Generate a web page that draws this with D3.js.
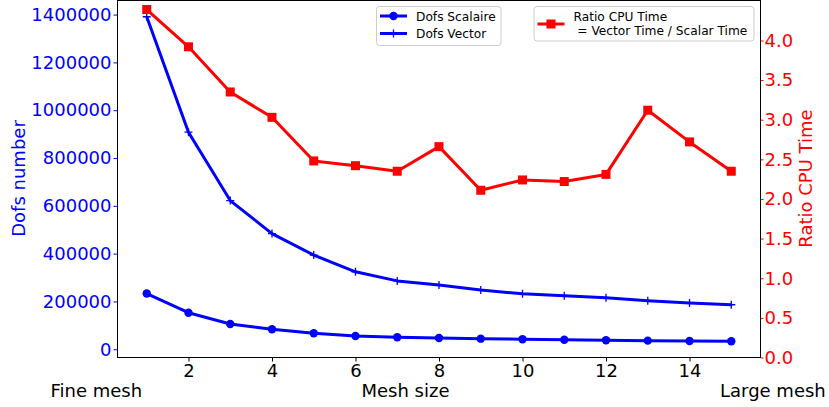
<!DOCTYPE html>
<html><head><meta charset="utf-8">
<script src="https://cdn.jsdelivr.net/npm/d3@7/dist/d3.min.js"></script>
<style>body{margin:0;background:#fff}svg{display:block}text{font-family:"DejaVu Sans",sans-serif}</style>
</head><body>
<svg id="c" width="829" height="407"></svg>
<script>
const meshSize = [1,2,3,4,5,6,7,8,9,10,11,12,13,14,15];
const dofsScalaire = [233000,153000,105500,83500,66800,55500,50100,47200,44300,41700,40000,37500,36000,34700,33400];
const dofsVector = [1391000,908000,622000,484000,394000,324000,286000,268500,247600,232000,224000,215500,203000,193300,186200];
const ratioCPU = [4.39,3.92,3.35,3.03,2.48,2.42,2.35,2.66,2.11,2.24,2.22,2.31,3.12,2.72,2.35];
const xTicks = [2,4,6,8,10,12,14];
const leftTicks = [0,200000,400000,600000,800000,1000000,1200000,1400000];
const rightTicks = [0,0.5,1,1.5,2,2.5,3,3.5,4];

const BLUE="#0000ff", RED="#ff0000";
const L=117.5, R=760.5, T=0.5, B=357.5;
const svg=d3.select("#c");

function pad(ext){const m=(ext[1]-ext[0])*0.05;return [ext[0]-m,ext[1]+m];}
const xd=pad(d3.extent(meshSize));
const x=d3.scaleLinear().domain(xd).range([L,R]);
const allDofs=dofsScalaire.concat(dofsVector);
const y1=d3.scaleLinear().domain(pad(d3.extent(allDofs))).range([B,T]);
const re=pad(d3.extent(ratioCPU));
const y2=d3.scaleLinear().domain([0,re[1]]).range([B,T]);

// axes
const fs=18;
const gx=svg.append("g").attr("transform",`translate(0,${B})`)
  .call(d3.axisBottom(x).tickValues(xTicks).tickSize(4).tickPadding(3).tickFormat(d3.format("d")));
const gl=svg.append("g").attr("transform",`translate(${L},0)`)
  .call(d3.axisLeft(y1).tickValues(leftTicks).tickSize(4).tickPadding(2).tickFormat(d3.format("d")));
const gr=svg.append("g").attr("transform",`translate(${R},0)`)
  .call(d3.axisRight(y2).tickValues(rightTicks).tickSize(3).tickPadding(1).tickFormat(d3.format(".1f")));
[gx,gl,gr].forEach(g=>{g.select(".domain").remove();g.selectAll("text").attr("font-size",fs).attr("font-family","DejaVu Sans");});
gx.selectAll("line").attr("stroke","#000");gx.selectAll("text").attr("fill","#000");
gl.selectAll("line").attr("stroke",BLUE);gl.selectAll("text").attr("fill",BLUE);
gr.selectAll("line").attr("stroke",RED);gr.selectAll("text").attr("fill",RED);

// lines
const lineS=d3.line().x((d,i)=>x(meshSize[i])).y(d=>y1(d));
svg.append("path").datum(dofsScalaire).attr("d",lineS).attr("fill","none").attr("stroke",BLUE).attr("stroke-width",3).attr("stroke-linejoin","round");
svg.append("g").selectAll("circle").data(dofsScalaire).join("circle")
  .attr("cx",(d,i)=>x(meshSize[i])).attr("cy",d=>y1(d)).attr("r",4.2).attr("fill",BLUE);
svg.append("path").datum(dofsVector).attr("d",lineS).attr("fill","none").attr("stroke",BLUE).attr("stroke-width",3).attr("stroke-linejoin","round");
const plus=(cx,cy,s)=>`M${cx-s},${cy}H${cx+s}M${cx},${cy-s}V${cy+s}`;
svg.append("g").selectAll("path").data(dofsVector).join("path")
  .attr("d",(d,i)=>plus(x(meshSize[i]),y1(d),4)).attr("stroke",BLUE).attr("stroke-width",1.3);

const lineR=d3.line().x((d,i)=>x(meshSize[i])).y(d=>y2(d));
svg.append("path").datum(ratioCPU).attr("d",lineR).attr("fill","none").attr("stroke",RED).attr("stroke-width",3).attr("stroke-linejoin","round");
svg.append("g").selectAll("rect").data(ratioCPU).join("rect")
  .attr("x",(d,i)=>x(meshSize[i])-4.5).attr("y",d=>y2(d)-4.5).attr("width",9).attr("height",9).attr("fill",RED);

// frame
svg.append("rect").attr("x",L).attr("y",T).attr("width",R-L).attr("height",B-T).attr("fill","none").attr("stroke","#000").attr("stroke-width",1);

// axis labels
svg.append("text").attr("transform","translate(25,178.5) rotate(-90)").attr("text-anchor","middle").attr("font-size",fs).attr("fill",BLUE).text("Dofs number");
svg.append("text").attr("transform","translate(811.5,178.5) rotate(-90)").attr("text-anchor","middle").attr("font-size",fs).attr("fill",RED).text("Ratio CPU Time");
const xl=svg.append("g").attr("font-size",fs).attr("fill","#000");
xl.append("text").attr("x",50.5).attr("y",397).text("Fine mesh");
xl.append("text").attr("x",361.5).attr("y",397).text("Mesh size");
xl.append("text").attr("x",720).attr("y",397).text("Large mesh");

// legend 1
const lg1=svg.append("g");
lg1.append("rect").attr("x",376.5).attr("y",6.5).attr("width",124.5).attr("height",39).attr("rx",3).attr("fill","#fff").attr("fill-opacity",0.8).attr("stroke","#cccccc");
lg1.append("line").attr("x1",380).attr("x2",407).attr("y1",16).attr("y2",16).attr("stroke",BLUE).attr("stroke-width",3);
lg1.append("circle").attr("cx",393.5).attr("cy",16).attr("r",4.2).attr("fill",BLUE);
lg1.append("line").attr("x1",380).attr("x2",407).attr("y1",33.5).attr("y2",33.5).attr("stroke",BLUE).attr("stroke-width",3);
lg1.append("path").attr("d",plus(393.5,33.5,4)).attr("stroke",BLUE).attr("stroke-width",1.3);
lg1.append("text").attr("x",416).attr("y",20.5).attr("font-size",12.2).text("Dofs Scalaire");
lg1.append("text").attr("x",416).attr("y",38).attr("font-size",12.2).text("Dofs Vector");

// legend 2
const lg2=svg.append("g");
lg2.append("rect").attr("x",534).attr("y",6.5).attr("width",220).attr("height",34.5).attr("rx",3).attr("fill","#fff").attr("fill-opacity",0.8).attr("stroke","#cccccc");
lg2.append("line").attr("x1",537.5).attr("x2",564.5).attr("y1",24).attr("y2",24).attr("stroke",RED).attr("stroke-width",3);
lg2.append("rect").attr("x",546.5).attr("y",19.5).attr("width",9).attr("height",9).attr("fill",RED);
lg2.append("text").attr("x",573.5).attr("y",20.5).attr("font-size",12.2).text("Ratio CPU Time");
lg2.append("text").attr("x",573.5).attr("y",34.5).attr("font-size",12.2).attr("xml:space","preserve").style("white-space","pre").text(" = Vector Time / Scalar Time");
</script>
</body></html>
